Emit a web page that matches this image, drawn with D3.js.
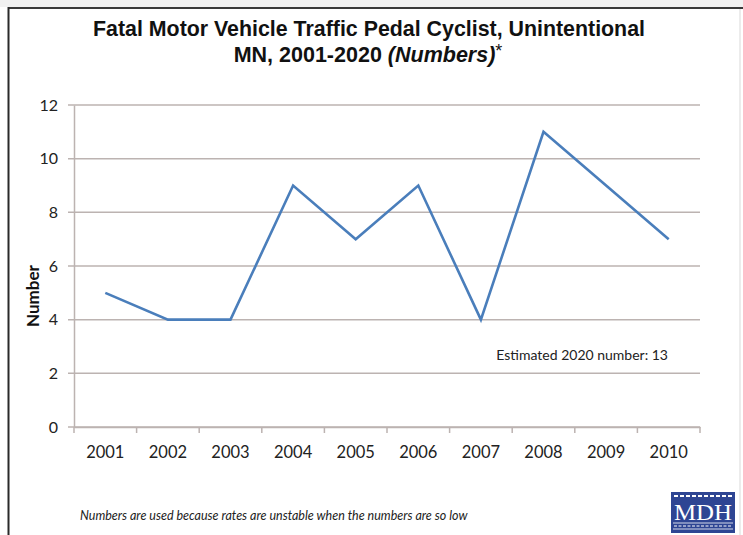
<!DOCTYPE html>
<html><head><meta charset="utf-8">
<script src="https://cdn.jsdelivr.net/npm/d3@7"></script>
<style>
body{margin:0;background:#fff;}
svg{display:block;}
</style></head>
<body>
<script>
const years = ["2001","2002","2003","2004","2005","2006","2007","2008","2009","2010"];
const values = [5,4,4,9,7,9,4,11,9,7];
const yTicks = [0,2,4,6,8,10,12];
const titleLine1 = "Fatal Motor Vehicle Traffic Pedal Cyclist, Unintentional";
const titleLine2 = "MN, 2001-2020 ";
const titleItalic = "(Numbers)";
const note = "Estimated 2020 number: 13";
const footnote = "Numbers are used because rates are unstable when the numbers are so low";

const W = 743, H = 535;
const svg = d3.select("body").append("svg").attr("width", W).attr("height", H);

// frame
svg.append("rect").attr("x",0).attr("y",0).attr("width",W).attr("height",H).attr("fill","#fff");
svg.append("rect").attr("x",0).attr("y",0).attr("width",W).attr("height",7).attr("fill","#f1f1f1");
svg.append("line").attr("x1",8).attr("x2",W).attr("y1",8).attr("y2",8).attr("stroke","#3a3a3a").attr("stroke-width",2);
svg.append("line").attr("x1",8.5).attr("x2",8.5).attr("y1",7).attr("y2",H).attr("stroke","#2a2a2a").attr("stroke-width",2);
svg.append("line").attr("x1",740).attr("x2",740).attr("y1",9).attr("y2",H).attr("stroke","#ececec").attr("stroke-width",2);

const sans = "Lato, 'Open Sans', sans-serif";
const narrow = "'Liberation Sans Narrow', 'Arial Narrow', 'Liberation Sans', Arial, sans-serif";

// title
svg.append("text").attr("x",369).attr("y",36).attr("text-anchor","middle")
  .attr("font-family",narrow).attr("font-weight","bold").attr("font-size",21.5).attr("fill","#111")
  .attr("textLength",552).attr("lengthAdjust","spacingAndGlyphs")
  .text(titleLine1);
const t2 = svg.append("text").attr("x",368).attr("y",62).attr("text-anchor","middle")
  .attr("font-family",narrow).attr("font-weight","bold").attr("font-size",21.5).attr("fill","#111");
t2.append("tspan").text(titleLine2);
t2.append("tspan").attr("font-style","italic").text(titleItalic);
t2.append("tspan").attr("font-weight","normal").attr("font-size",18).attr("dy",-5).text("*");

const m = {left:74, right:700, top:105, bottom:427};
const x = d3.scaleBand().domain(years).range([m.left, m.right]);
const y = d3.scaleLinear().domain([0,12]).range([m.bottom, m.top]);

const grid = "#bcb3b1";
// gridlines
svg.append("g").selectAll("line").data(yTicks).join("line")
  .attr("x1", m.left-6).attr("x2", m.right)
  .attr("y1", d=>y(d)).attr("y2", d=>y(d))
  .attr("stroke", grid).attr("stroke-width",1.5);

// y axis
const ya = svg.append("g").attr("transform",`translate(${m.left},0)`)
  .call(d3.axisLeft(y).tickValues(yTicks).tickSize(0).tickPadding(16));
ya.select(".domain").attr("stroke",grid).attr("stroke-width",1.5);
ya.selectAll("text").attr("font-family",sans).attr("font-size",16).attr("fill","#222");

// x axis
const xa = svg.append("g").attr("transform",`translate(0,${m.bottom})`)
  .call(d3.axisBottom(x).tickSize(0).tickPadding(19));
xa.select(".domain").attr("stroke",grid).attr("stroke-width",1.5);
xa.selectAll("text").attr("font-family",sans).attr("font-size",16.5).attr("fill","#222");
// x tick marks at band boundaries
const bounds = years.map(d=>x(d)).concat([m.right]);
svg.append("g").selectAll("line").data(bounds).join("line")
  .attr("x1",d=>d).attr("x2",d=>d).attr("y1",m.bottom).attr("y2",m.bottom+6)
  .attr("stroke",grid).attr("stroke-width",1.5);

// y label
svg.append("text").attr("transform","translate(39,296) rotate(-90)").attr("text-anchor","middle")
  .attr("font-family",sans).attr("font-weight","bold").attr("font-size",17).attr("fill","#111")
  .text("Number");

// line
const line = d3.line().x((d,i)=>x(years[i])+x.bandwidth()/2).y(d=>y(d));
svg.append("path").datum(values).attr("d",line).attr("fill","none")
  .attr("stroke","#4a7ebb").attr("stroke-width",2.6).attr("stroke-linejoin","miter");

// note
svg.append("text").attr("x",668).attr("y",360).attr("text-anchor","end")
  .attr("font-family",sans).attr("font-size",14).attr("fill","#222").text(note);

// footnote
svg.append("text").attr("x",80).attr("y",520)
  .attr("font-family",sans).attr("font-style","italic").attr("font-size",12.5).attr("fill","#222").text(footnote);

// MDH logo
const lg = svg.append("g").attr("transform","translate(671,492)");
lg.append("rect").attr("width",64).attr("height",41).attr("fill","#2e4593");
lg.append("line").attr("x1",3).attr("x2",61).attr("y1",4).attr("y2",4)
  .attr("stroke","#fff").attr("stroke-width",2).attr("stroke-dasharray","4,2");
lg.append("line").attr("x1",3).attr("x2",61).attr("y1",34).attr("y2",34)
  .attr("stroke","#fff").attr("stroke-width",1).attr("stroke-dasharray","3,1.5");
lg.append("line").attr("x1",2).attr("x2",62).attr("y1",31).attr("y2",31).attr("stroke","#fff").attr("stroke-width",0.8);
lg.append("line").attr("x1",2).attr("x2",62).attr("y1",37).attr("y2",37).attr("stroke","#fff").attr("stroke-width",0.8);
lg.append("text").attr("x",32).attr("y",28).attr("text-anchor","middle")
  .attr("font-family","'Liberation Serif','DejaVu Serif',serif").attr("font-size",23).attr("fill","#fff")
  .attr("textLength",58).attr("lengthAdjust","spacingAndGlyphs").text("MDH");
</script>
</body></html>
